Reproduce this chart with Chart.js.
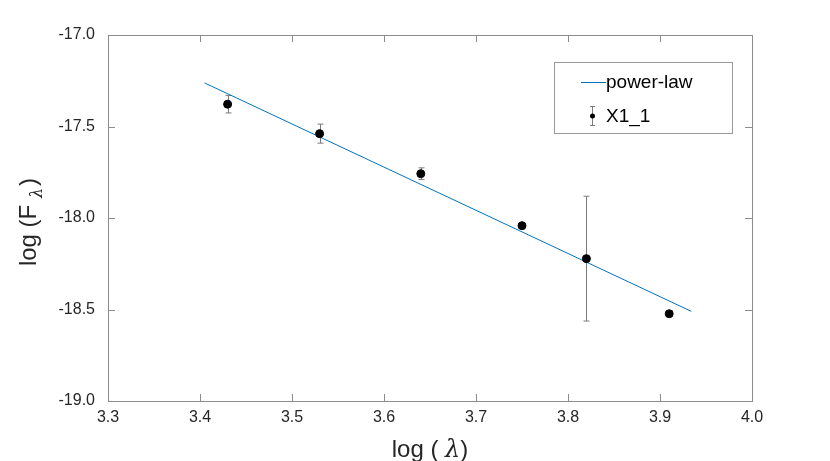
<!DOCTYPE html>
<html>
<head>
<meta charset="utf-8">
<script src="https://cdn.jsdelivr.net/npm/chart.js@4.4.0/dist/chart.umd.min.js"></script>
<style>
  body { margin: 0; background: #fff; }
  #wrap { width: 830px; height: 461px; }
</style>
</head>
<body>
<div id="wrap"><canvas id="chart" width="830" height="461"></canvas></div>
<script>
// measured points (log lambda, log F_lambda) and their error half-widths
const logLambda = [3.43, 3.53, 3.64, 3.75, 3.82, 3.91];
const logFlux = [-17.378, -17.539, -17.758, -18.042, -18.222, -18.523];
const errLow = [0.048, 0.052, 0.032, 0.012, 0.341, 0.015];
const errHigh = [0.048, 0.052, 0.032, 0.012, 0.341, 0.015];

// fitted power-law, two end points
const fitX = [3.405, 3.934];
const fitY = [-17.262, -18.510];

const xTicks = [3.3, 3.4, 3.5, 3.6, 3.7, 3.8, 3.9, 4.0];
const yTicks = [-19.0, -18.5, -18.0, -17.5, -17.0];

const axisGrey = '#8c8c8c';
const textCol = '#262626';
const fontFam = '"Liberation Sans", Arial, Helvetica, sans-serif';
const greekFont = '"DejaVu Serif", serif';

// error bars drawn behind the dots
const errorBars = {
  id: 'errorBars',
  beforeDatasetsDraw(chart) {
    const { ctx, scales: { x, y } } = chart;
    ctx.save();
    ctx.strokeStyle = '#7a7a7a';
    ctx.lineWidth = 1;
    logLambda.forEach((lx, i) => {
      const px = Math.round(x.getPixelForValue(lx)) + 0.5;
      const top = y.getPixelForValue(logFlux[i] + errHigh[i]);
      const bot = y.getPixelForValue(logFlux[i] - errLow[i]);
      ctx.beginPath();
      ctx.moveTo(px, top); ctx.lineTo(px, bot);
      ctx.moveTo(px - 3, top); ctx.lineTo(px + 3, top);
      ctx.moveTo(px - 3, bot); ctx.lineTo(px + 3, bot);
      ctx.stroke();
    });
    ctx.restore();
  }
};

// box with inward ticks, titles and the legend
const frame = {
  id: 'frame',
  afterDraw(chart) {
    const { ctx, chartArea: a, scales: { x, y } } = chart;
    ctx.save();
    ctx.strokeStyle = axisGrey;
    ctx.lineWidth = 1;
    ctx.strokeRect(Math.round(a.left) + 0.5, Math.round(a.top) + 0.5,
      Math.round(a.right - a.left), Math.round(a.bottom - a.top));
    ctx.beginPath();
    xTicks.forEach(t => {
      const px = Math.round(x.getPixelForValue(t)) + 0.5;
      ctx.moveTo(px, a.bottom); ctx.lineTo(px, a.bottom - 7);
      ctx.moveTo(px, a.top); ctx.lineTo(px, a.top + 7);
    });
    yTicks.forEach(t => {
      const py = Math.round(y.getPixelForValue(t)) + 0.5;
      ctx.moveTo(a.left, py); ctx.lineTo(a.left + 7, py);
      ctx.moveTo(a.right, py); ctx.lineTo(a.right - 7, py);
    });
    ctx.stroke();

    // x title
    ctx.fillStyle = textCol;
    ctx.textBaseline = 'alphabetic';
    const big = '24px ' + fontFam;
    const cx = (a.left + a.right) / 2;
    const p1 = 'log ( ', p3 = ')';
    ctx.font = big;
    const w1 = ctx.measureText(p1).width, w3 = ctx.measureText(p3).width;
    ctx.font = 'italic 24px ' + greekFont;
    const w2 = ctx.measureText('λ').width;
    const sx = cx - (w1 + w2 + w3) / 2;
    ctx.font = big;
    ctx.fillText(p1, sx, 457);
    ctx.font = 'italic 24px ' + greekFont;
    ctx.fillText('λ', sx + w1, 457);
    ctx.font = big;
    ctx.fillText(p3, sx + w1 + w2, 457);

    // y title, rotated
    ctx.save();
    ctx.translate(36, 223);
    ctx.rotate(-Math.PI / 2);
    ctx.font = big;
    const q1 = 'log (F ';
    const q1w = ctx.measureText(q1).width;
    ctx.font = 'italic 16px ' + greekFont;
    const q2w = ctx.measureText('λ').width;
    ctx.font = big;
    const q3w = ctx.measureText(')').width;
    const sy = -(q1w + q2w + q3w) / 2;
    ctx.fillText(q1, sy, 0);
    ctx.font = 'italic 16px ' + greekFont;
    ctx.fillText('λ', sy + q1w, 6);
    ctx.font = big;
    ctx.fillText(')', sy + q1w + q2w + 2, 0);
    ctx.restore();

    // legend
    const lx = 554.5, ly = 62.5, lw = 178, lh = 71;
    ctx.fillStyle = '#fff';
    ctx.fillRect(lx, ly, lw, lh);
    ctx.strokeStyle = '#999';
    ctx.strokeRect(lx, ly, lw, lh);
    ctx.strokeStyle = '#0072bd';
    ctx.beginPath();
    ctx.moveTo(581, 82.5); ctx.lineTo(606, 82.5);
    ctx.stroke();
    ctx.fillStyle = '#000';
    ctx.font = '19px ' + fontFam;
    ctx.textBaseline = 'middle';
    ctx.fillText('power-law', 606, 83);
    ctx.fillText('X1_1', 606, 117);
    ctx.strokeStyle = '#7a7a7a';
    ctx.beginPath();
    ctx.moveTo(592.5, 106); ctx.lineTo(592.5, 126);
    ctx.moveTo(590, 106.5); ctx.lineTo(595, 106.5);
    ctx.moveTo(590, 125.5); ctx.lineTo(595, 125.5);
    ctx.stroke();
    ctx.fillStyle = '#000';
    ctx.beginPath();
    ctx.arc(592.5, 116, 2.5, 0, Math.PI * 2);
    ctx.fill();
    ctx.restore();
  }
};

const ctx = document.getElementById('chart').getContext('2d');
const chart = new Chart(ctx, {
  type: 'scatter',
  data: {
    datasets: [
      {
        label: 'power-law',
        type: 'line',
        data: fitX.map((v, i) => ({ x: v, y: fitY[i] })),
        borderColor: '#0072bd',
        borderWidth: 1,
        pointRadius: 0,
        fill: false,
        order: 2
      },
      {
        label: 'X1_1',
        data: logLambda.map((v, i) => ({ x: v, y: logFlux[i] })),
        backgroundColor: '#000',
        borderColor: '#000',
        pointRadius: 4,
        order: 1
      }
    ]
  },
  options: {
    responsive: false,
    animation: false,
    layout: { padding: { top: 35, right: 78, left: 0, bottom: 0 } },
    scales: {
      x: {
        type: 'linear',
        min: 3.3,
        max: 4.0,
        afterFit: s => { s.height = 60; },
        afterBuildTicks: s => { s.ticks = xTicks.map(v => ({ value: v })); },
        grid: { display: false, drawTicks: false },
        border: { display: false },
        ticks: {
          color: textCol,
          font: { family: fontFam, size: 16 },
          padding: 7,
          maxRotation: 0,
          callback: v => v.toFixed(1)
        }
      },
      y: {
        type: 'linear',
        min: -19,
        max: -17,
        afterFit: s => { s.width = 108; },
        afterBuildTicks: s => { s.ticks = yTicks.map(v => ({ value: v })); },
        grid: { display: false, drawTicks: false },
        border: { display: false },
        ticks: {
          color: textCol,
          font: { family: fontFam, size: 16 },
          padding: 13,
          callback: v => v.toFixed(1)
        }
      }
    },
    plugins: {
      legend: { display: false },
      tooltip: { enabled: false }
    }
  },
  plugins: [errorBars, frame]
});
</script>
</body>
</html>
